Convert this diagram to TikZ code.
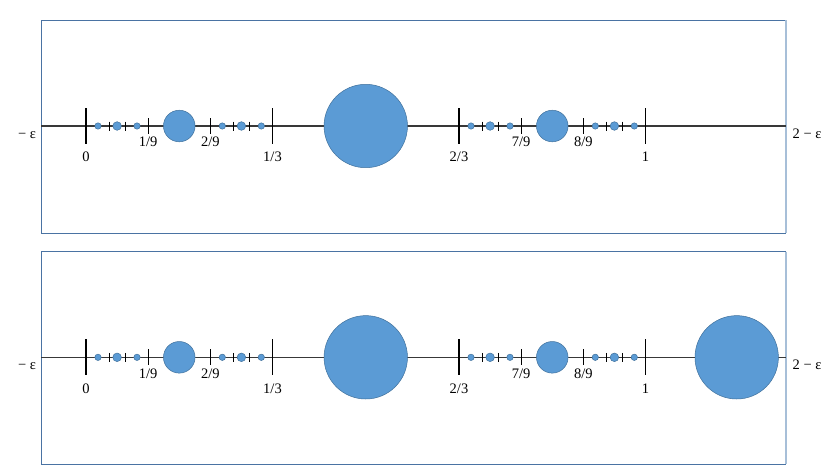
\documentclass[tikz,border=0pt]{standalone}
\usepackage{fontspec}
\setmainfont{Liberation Serif}
\definecolor{dotfill}{HTML}{5B9BD5}
\definecolor{dotline}{HTML}{41719C}
\definecolor{framedark}{HTML}{4A73A3}
\definecolor{framelight}{HTML}{A7BFD8}
\begin{document}
\begin{tikzpicture}[x=1pt,y=-1pt,
  axis/.style={draw=black!78,line width=1.4pt},
  bigtick/.style={draw=black,line width=1.3pt},
  midtick/.style={draw=black,line width=1.2pt},
  smalltick/.style={draw=black,line width=1pt},
  ball/.style={fill=dotfill,draw=dotline,line width=0.5pt},
  lab/.style={font=\fontsize{14.5}{16}\selectfont,inner sep=0pt,anchor=base},
  framel/.style={draw=framedark,line width=1.1pt},
  framer/.style={draw=framelight,line width=1.6pt}]
\useasboundingbox (0,0) rectangle (830,467);
\foreach \py/\top/\bot [count=\p] in {126/20.3/233.3, 357.3/251.7/464.3} {
  % frame
  \draw[framel] (786,\top) -- (41.3,\top) -- (41.3,\bot) -- (786,\bot);
  \draw[framer] (786,\top) -- (786,\bot);
  % axis
  \draw[axis] (41.3,\py) -- (786,\py);
  % end labels
  \node[lab] (le\p) at (27,{\py+12.3}) {− ε};
  \node[lab] (re\p) at (807,{\py+12.3}) {2 − ε};
  % big ticks
  \foreach \xx/\lab [count=\k] in {86/0, 272.5/{1/3}, 459/{2/3}, 645.5/1} {
    \draw[bigtick] (\xx,{\py-18}) -- (\xx,{\py+18});
    \node[lab] (b\p-\k) at (\xx,{\py+35.7}) {\lab};
  }
  % middle ticks
  \foreach \xx/\lab [count=\k] in {148.2/{1/9}, 210.3/{2/9}, 521.2/{7/9}, 583.3/{8/9}} {
    \draw[midtick] (\xx,{\py-8}) -- (\xx,{\py+7.5});
    \node[lab] (m\p-\k) at (\xx,{\py+20.7}) {\lab};
  }
  % small ticks and dots
  \foreach \s in {86, 210.3, 459, 583.3} {
    \draw[smalltick] ({\s+23},{\py-4.5}) -- ({\s+23},{\py+4.5});
    \draw[smalltick] ({\s+39},{\py-4.5}) -- ({\s+39},{\py+4.5});
    \fill[ball] ({\s+12},\py) circle (3.2);
    \fill[ball] ({\s+31.1},\py) circle (4.3);
    \fill[ball] ({\s+51},\py) circle (3.2);
  }
  % circles
  \filldraw[ball] (179.25,\py) circle (15.8);
  \filldraw[ball] (552.25,\py) circle (15.8);
  \filldraw[ball] (365.75,\py) circle (41.7);
}
\filldraw[ball] (736.7,357.3) circle (41.7);
\end{tikzpicture}
\end{document}
